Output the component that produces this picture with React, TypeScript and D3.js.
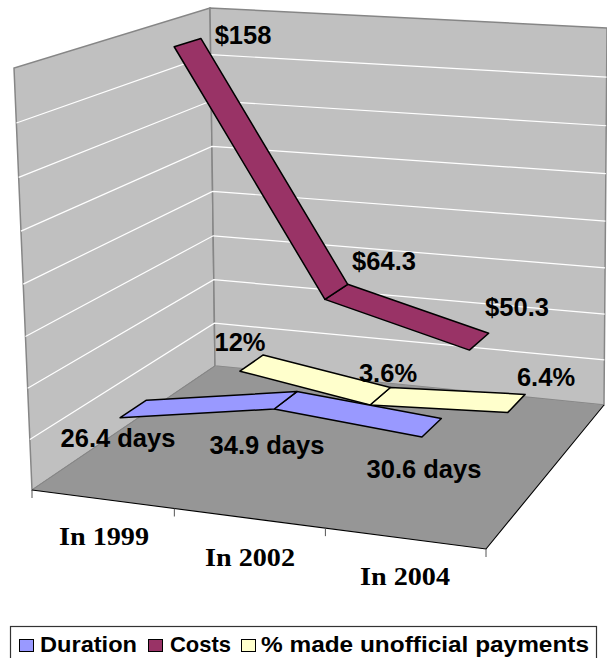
import React from "react";
import * as d3 from "d3";

// Chart data
const categories = ["In 1999", "In 2002", "In 2004"];
const duration = [26.4, 34.9, 30.6];
const costs = [158, 64.3, 50.3];
const unofficial = [12, 3.6, 6.4];
const durationLabels = ["26.4 days", "34.9 days", "30.6 days"];
const costLabels = ["$158", "$64.3", "$50.3"];
const unofficialLabels = ["12%", "3.6%", "6.4%"];
const legendNames = ["Duration", "Costs", "% made unofficial payments"];
const gridValues = d3.range(20, 160, 20);

type P = [number, number];

// Perspective map from the unit square onto a quadrilateral
function quadMap(a: P, b: P, c: P, d: P) {
  // a=(0,0) b=(1,0) c=(1,1) d=(0,1)
  const dx1 = b[0] - c[0], dx2 = d[0] - c[0], sx = a[0] - b[0] + c[0] - d[0];
  const dy1 = b[1] - c[1], dy2 = d[1] - c[1], sy = a[1] - b[1] + c[1] - d[1];
  const den = dx1 * dy2 - dx2 * dy1;
  const g = (sx * dy2 - dx2 * sy) / den;
  const h = (dx1 * sy - sx * dy1) / den;
  const A = b[0] - a[0] + g * b[0], B = d[0] - a[0] + h * d[0], C = a[0];
  const D = b[1] - a[1] + g * b[1], E = d[1] - a[1] + h * d[1], F = a[1];
  return (u: number, w: number): P => {
    const q = g * u + h * w + 1;
    return [(A * u + B * w + C) / q, (D * u + E * w + F) / q];
  };
}

// Box corners: floor and ceiling, front-left, front-right, back-right, back-left
const floor = quadMap([32, 490], [486, 549], [604, 405], [215, 366]);
const ceiling = quadMap([14, 68], [498, 66], [607, 28], [210, 8]);

// Height scales: walls foreshorten slightly towards the floor
const markScale = d3.scaleLinear().domain([0, 156.8]).range([0, 1]);
const wallScale = d3.scaleLinear().domain([0, 160]).range([0, 1]);
const wallHeight = (v: number) => {
  const t = wallScale(v);
  return t / (1 + 0.05 * (1 - t));
};

function place(u: number, w: number, t: number): P {
  const f = floor(u, w), c = ceiling(u, w);
  return [f[0] + (c[0] - f[0]) * t, f[1] + (c[1] - f[1]) * t];
}
const onMark = (u: number, w: number, v: number) => place(u, w, markScale(v));
const onWall = (u: number, w: number, v: number) => place(u, w, wallHeight(v));

const path = (pts: P[]) => d3.line()(pts)! + "Z";

const ribbon = [
  { values: duration, labels: durationLabels, fill: "#9999FF", w0: 0.065, w1: 0.2, span: [1 / 6, 5 / 6], pos: [[118, 438], [267, 445], [424, 469]] as P[] },
  { values: costs, labels: costLabels, fill: "#993366", w0: 0.31, w1: 0.46, span: [0.145, 0.855], pos: [[243, 35], [384, 261], [517, 307]] as P[] },
  { values: unofficial, labels: unofficialLabels, fill: "#FFFFCC", w0: 0.75, w1: 0.9, span: [1 / 6, 5 / 6], pos: [[240, 342], [388, 373], [546, 377]] as P[] },
];

const catLabelPos: P[] = [[104, 536], [250, 557], [405, 576]];
const legendSwatches = [
  { x: 19, fill: "#9999FF" },
  { x: 148, fill: "#993366" },
  { x: 241, fill: "#FFFFCC" },
];
const legendText = [
  { x: 40, len: 97 },
  { x: 170, len: 61 },
  { x: 261, len: 328 },
];

export default function App() {
  const wallEdge = "#868686";
  return (
    <svg width={607} height={658} style={{ position: "absolute", left: 0, top: 0 }}>
      <path d={path([onWall(0, 0, 0), onWall(0, 0, 160), onWall(0, 1, 160), onWall(0, 1, 0)])} fill="#C0C0C0" stroke={wallEdge} strokeWidth={1.5} />
      <path d={path([onWall(0, 1, 0), onWall(0, 1, 160), onWall(1, 1, 160), onWall(1, 1, 0)])} fill="#C0C0C0" stroke={wallEdge} strokeWidth={1.5} />
      {gridValues.map((g) => (
        <path key={g} d={d3.line()([onWall(0, 0, g), onWall(0, 1, g), onWall(1, 1, g)])!} fill="none" stroke="#FFFFFF" strokeWidth={1.2} />
      ))}
      <path d={path([onWall(0, 0, 0), onWall(1, 0, 0), onWall(1, 1, 0), onWall(0, 1, 0)])} fill="#969696" />
      <path d={d3.line()([onWall(0, 1, 0), onWall(0, 0, 0)])!} stroke={wallEdge} fill="none" />
      <path d={d3.line()([onWall(0, 0, 0), onWall(1, 0, 0), onWall(1, 1, 0)])!} stroke="#000" fill="none" strokeWidth={1.1} />
      {[0, 1 / 3, 2 / 3, 1].map((u) => {
        const p = onWall(u, 0, 0);
        return <line key={u} x1={p[0]} y1={p[1]} x2={p[0]} y2={p[1] + 8} stroke="#555" />;
      })}
      {[ribbon[2], ribbon[1], ribbon[0]].map((s) => {
        const xScale = d3.scalePoint<number>().domain([0, 1, 2]).range(s.span as [number, number]);
        return [1, 0].map((i) => {
          const u0 = xScale(i)!, u1 = xScale(i + 1)!;
          return (
            <path
              key={s.fill + i}
              d={path([
                onMark(u0, s.w0, s.values[i]),
                onMark(u1, s.w0, s.values[i + 1]),
                onMark(u1, s.w1, s.values[i + 1]),
                onMark(u0, s.w1, s.values[i]),
              ])}
              fill={s.fill}
              stroke="#000"
              strokeWidth={1.5}
              strokeLinejoin="round"
            />
          );
        });
      })}
      <g fontFamily="'Liberation Sans', Arial, sans-serif" fontWeight="bold" fontSize={25.5} textAnchor="middle" fill="#000">
        {ribbon.map((s) =>
          s.labels.map((t, i) => (
            <text key={t} x={s.pos[i][0]} y={s.pos[i][1]} dominantBaseline="central">{t}</text>
          ))
        )}
      </g>
      <g fontFamily="'Liberation Serif', 'Times New Roman', serif" fontWeight="bold" fontSize={25} textAnchor="middle" fill="#000">
        {categories.map((c, i) => (
          <text key={c} x={catLabelPos[i][0]} y={catLabelPos[i][1]} dominantBaseline="central" textLength={90} lengthAdjust="spacingAndGlyphs">{c}</text>
        ))}
      </g>
      <rect x={10.5} y={626.5} width={586} height={42} fill="#FFF" stroke="#333" strokeWidth={1.2} />
      {legendSwatches.map((s) => (
        <rect key={s.x} x={s.x + 0.5} y={639.5} width={14} height={12} fill={s.fill} stroke="#000" strokeWidth={1} />
      ))}
      <g fontFamily="'Liberation Sans', Arial, sans-serif" fontWeight="bold" fontSize={22.5} fill="#000">
        {legendNames.map((n, i) => (
          <text key={n} x={legendText[i].x} y={652} textLength={legendText[i].len} lengthAdjust="spacingAndGlyphs">{n}</text>
        ))}
      </g>
    </svg>
  );
}
